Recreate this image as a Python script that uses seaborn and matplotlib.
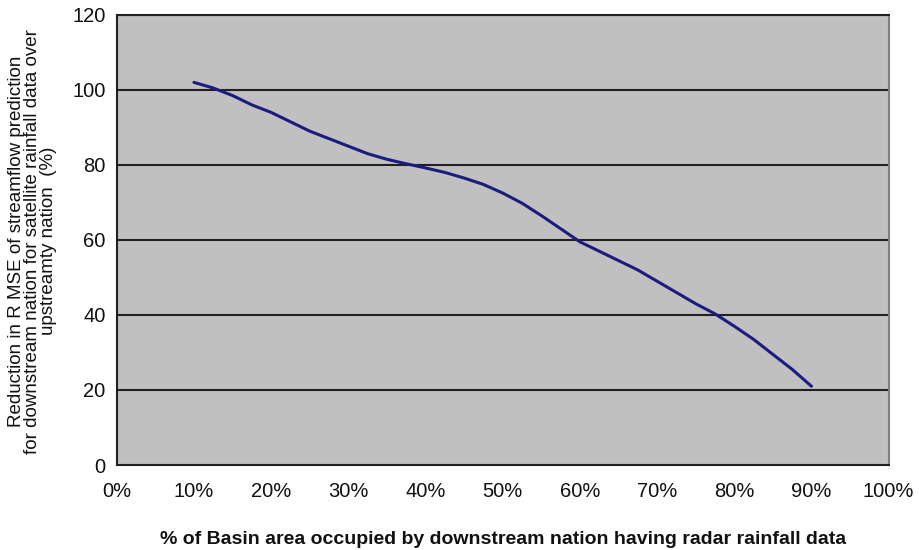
import numpy as np
import pandas as pd
import seaborn as sns
import matplotlib.pyplot as plt
from matplotlib.ticker import PercentFormatter

# data
basin_share = [10, 12.5, 15, 17.5, 20, 22.5, 25, 27.5, 30, 32.5, 35, 37.5, 40,
               42.5, 45, 47.5, 50, 52.5, 55, 57.5, 60, 62.5, 65, 67.5, 70,
               72.5, 75, 77.5, 80, 82.5, 85, 87.5, 90]
rmse_reduction = [102, 100.5, 98.5, 96, 94, 91.5, 89, 87, 85, 83, 81.5, 80.3, 79.2,
                  78, 76.5, 74.8, 72.5, 69.8, 66.5, 63, 59.5, 57, 54.5, 52, 49,
                  46, 43, 40.3, 37, 33.5, 29.5, 25.5, 21]

df = pd.DataFrame({'share': basin_share, 'reduction': rmse_reduction})

sns.set_theme(style="white")
plt.rcParams['font.family'] = ['Liberation Sans', 'DejaVu Sans']

fig = plt.figure(figsize=(9.19, 5.5), dpi=100)
ax = fig.add_axes([0.127, 0.1545, 0.840, 0.8185])
ax.set_facecolor('#C0C0C0')

sns.lineplot(data=df, x='share', y='reduction', ax=ax, color='#1C1C80', linewidth=2.2)

ax.set_xlim(0, 100)
ax.set_ylim(0, 120)
ax.set_xticks(np.arange(0, 101, 10))
ax.set_yticks(np.arange(0, 121, 20))
ax.xaxis.set_major_formatter(PercentFormatter(decimals=0))

for yv in range(20, 121, 20):
    ax.axhline(yv, color='#202020', linewidth=1.5, zorder=1)

for side in ['left', 'bottom', 'top']:
    ax.spines[side].set_color('#202020')
    ax.spines[side].set_linewidth(1.5)
ax.spines['right'].set_color('#808080')
ax.spines['right'].set_linewidth(1.5)

ax.tick_params(axis='both', direction='out', length=4, width=1.2, color='#202020',
               labelsize=14.5, labelcolor='#111111', pad=4)
ax.tick_params(axis='x', pad=8)

ax.set_xlabel('% of Basin area occupied by downstream nation having radar rainfall data',
              fontsize=14, fontweight='bold', labelpad=22, color='#111111')
ax.set_ylabel('Reduction in R MSE of streamflow prediction\n'
              'for downstream nation for satellite rainfall data over\n'
              'upstreamty nation  (%)',
              fontsize=13.5, linespacing=0.93, color='#111111')
ax.yaxis.set_label_coords(-0.077, 0.497)

plt.savefig('out.png', dpi=100)
